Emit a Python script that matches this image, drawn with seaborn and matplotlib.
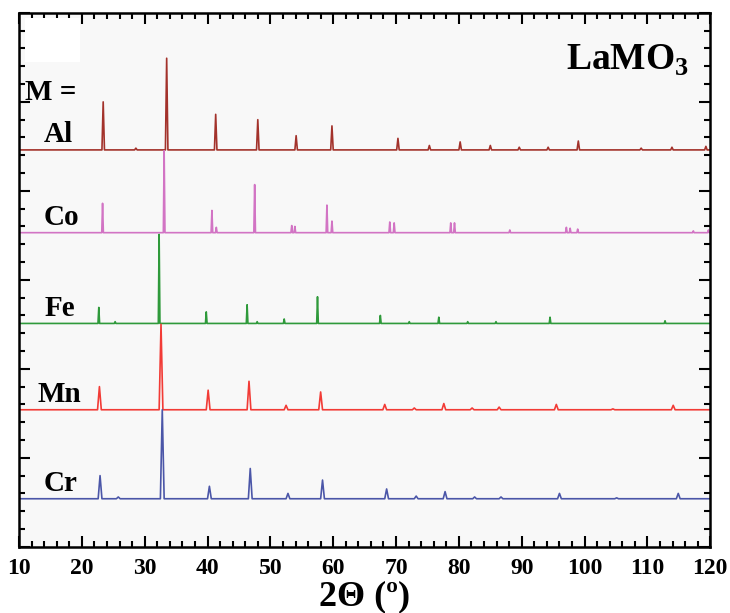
import pandas as pd
import matplotlib
matplotlib.use('Agg')
import matplotlib.pyplot as plt
from matplotlib.patches import Rectangle
from matplotlib.ticker import MultipleLocator
import seaborn as sns

# Peak lists (2theta in degrees, relative intensity)
al_pos = [23.4, 28.6, 33.5, 41.3, 48.0, 54.1, 59.8, 70.3, 75.3, 80.2, 85.0, 89.6, 94.2, 99.0, 109.0, 113.9, 119.3]
al_int = [0.54, 0.02, 1.03, 0.40, 0.34, 0.16, 0.27, 0.13, 0.05, 0.09, 0.05, 0.03, 0.03, 0.10, 0.02, 0.03, 0.04]

co_pos = [23.3, 33.1, 40.7, 41.4, 47.5, 53.4, 53.9, 59.0, 59.8, 69.0, 69.7, 78.7, 79.3, 88.1, 97.1, 97.7, 98.9, 117.3, 119.7]
co_int = [0.33, 0.92, 0.25, 0.06, 0.54, 0.08, 0.07, 0.31, 0.13, 0.12, 0.11, 0.11, 0.11, 0.03, 0.06, 0.05, 0.04, 0.02, 0.03]

fe_pos = [22.7, 25.3, 32.3, 39.8, 46.3, 47.9, 52.2, 57.5, 67.5, 72.1, 76.8, 81.4, 85.9, 94.5, 112.8]
fe_int = [0.18, 0.02, 1.00, 0.13, 0.21, 0.02, 0.05, 0.30, 0.09, 0.02, 0.07, 0.02, 0.02, 0.07, 0.03]

mn_pos = [22.8, 32.6, 40.1, 46.6, 52.5, 58.0, 68.2, 72.9, 77.6, 82.1, 86.4, 95.5, 104.5, 114.1]
mn_int = [0.26, 0.96, 0.22, 0.32, 0.05, 0.20, 0.06, 0.02, 0.07, 0.02, 0.03, 0.06, 0.01, 0.05]

cr_pos = [22.9, 25.8, 32.8, 40.3, 46.8, 52.8, 58.3, 68.5, 73.2, 77.8, 82.5, 86.7, 96.0, 105.1, 114.9]
cr_int = [0.26, 0.02, 1.00, 0.14, 0.34, 0.06, 0.21, 0.11, 0.03, 0.08, 0.02, 0.02, 0.06, 0.01, 0.06]

samples = ["Al", "Co", "Fe", "Mn", "Cr"]
baselines = [4.46, 3.53, 2.51, 1.54, 0.54]
peaks = {
    "Al": (al_pos, al_int),
    "Co": (co_pos, co_int),
    "Fe": (fe_pos, fe_int),
    "Mn": (mn_pos, mn_int),
    "Cr": (cr_pos, cr_int),
}

# styles
colors = {"Al": "#a3322b", "Co": "#d274c4", "Fe": "#2f9a3b", "Mn": "#f23b36", "Cr": "#4b56a8"}
half_width = {"Al": 0.2, "Co": 0.13, "Fe": 0.13, "Mn": 0.3, "Cr": 0.3}
x_min, x_max = 10, 120

# build each pattern as a polyline: flat baseline with a spike at each reflection
rows = []
for name, base in zip(samples, baselines):
    pos, inten = peaks[name]
    w = half_width[name]
    rows.append((name, x_min, base))
    for p, h in zip(pos, inten):
        rows.append((name, p - w, base))
        rows.append((name, p, base + h))
        rows.append((name, p + w, base))
    rows.append((name, x_max, base))
df = pd.DataFrame(rows, columns=["sample", "two_theta", "intensity"])

sns.set_style("ticks")
plt.rcParams['font.family'] = ['Liberation Serif', 'DejaVu Serif']
plt.rcParams['text.color'] = 'black'
plt.rcParams['axes.labelcolor'] = 'black'
plt.rcParams['xtick.color'] = 'black'
plt.rcParams['ytick.color'] = 'black'
plt.rcParams['mathtext.fontset'] = 'custom'
plt.rcParams['mathtext.rm'] = 'Liberation Serif:bold'

fig = plt.figure(figsize=(7.3, 6.13), dpi=100)
ax = fig.add_axes([0.026, 0.108, 0.947, 0.871])
ax.set_facecolor('#f8f8f8')

sns.lineplot(data=df, x="two_theta", y="intensity", hue="sample", hue_order=samples,
             palette=colors, sort=False, estimator=None, linewidth=1.2, legend=False, ax=ax)

ax.set_xlim(x_min, x_max)
ax.set_ylim(0, 6)

# white patch in the top-left corner of the original
ax.add_patch(Rectangle((0.009, 0.908), 0.079, 0.082, transform=ax.transAxes,
                       facecolor='white', edgecolor='none', zorder=1))

# sample labels
ax.text(11.0, 5.11, "M =", fontsize=21, fontweight='bold', va='center', ha='left')
label_x = {"Al": 14.0, "Co": 14.0, "Fe": 14.0, "Mn": 12.9, "Cr": 14.0}
for name, base in zip(samples, baselines):
    ax.text(label_x[name], base + 0.17, name, fontsize=21, fontweight='bold', va='center', ha='left')
ax.text(116.6, 5.47, "LaMO$_3$", fontsize=27, fontweight='bold', va='center', ha='right')

# ticks on all sides, pointing in
ax.xaxis.set_major_locator(MultipleLocator(10))
ax.xaxis.set_minor_locator(MultipleLocator(2))
ax.yaxis.set_major_locator(MultipleLocator(1))
ax.yaxis.set_minor_locator(MultipleLocator(0.2))
ax.tick_params(which='both', direction='in', top=True, right=True, left=True, bottom=True,
               labelleft=False, width=1.5, color='black')
ax.tick_params(which='major', length=8)
ax.tick_params(which='minor', length=4)
ax.tick_params(axis='x', which='major', labelsize=17, pad=8)
for lbl in ax.get_xticklabels():
    lbl.set_fontweight('bold')
for sp in ax.spines.values():
    sp.set_linewidth(1.8)
    sp.set_color('black')

ax.set_ylabel("")
ax.set_xlabel("2Θ (º)", fontsize=26, fontweight='bold', labelpad=1)

fig.savefig("out.png", dpi=100, facecolor='white')
